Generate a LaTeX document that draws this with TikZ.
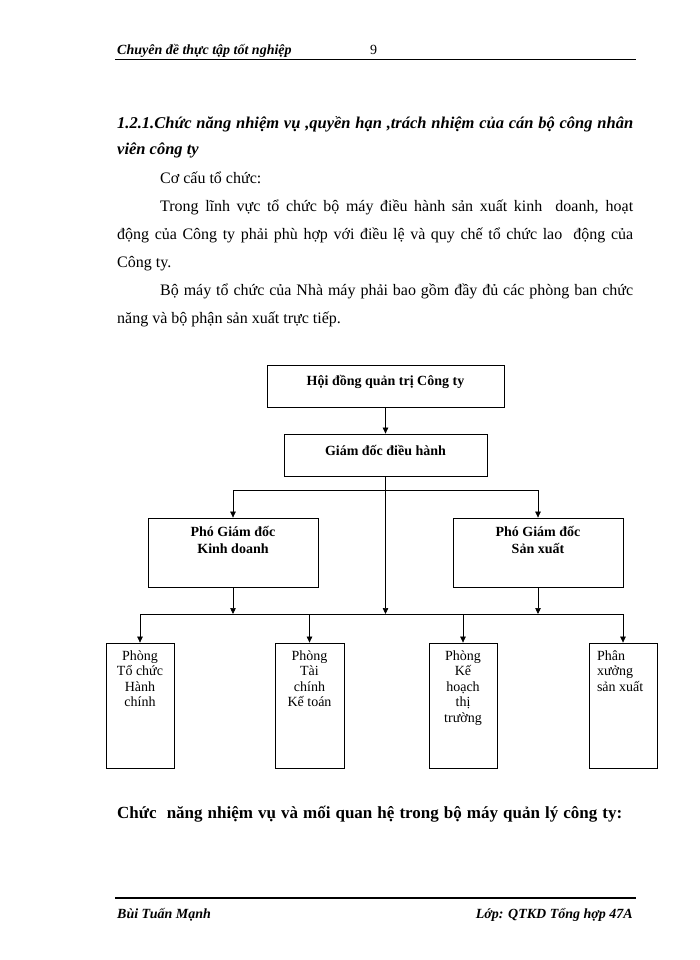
\documentclass[tikz,border=0pt]{standalone}
\usepackage{fontspec}
\setmainfont{Liberation Serif}
\usetikzlibrary{arrows.meta}
\begin{document}
\begin{tikzpicture}[x=1pt,y=-1pt,
  box/.style={draw, line width=0.8pt, inner sep=0pt, anchor=center},
  arr/.style={-{Triangle[length=6pt,width=5.5pt]}, line width=0.7pt},
  ln/.style={line width=0.7pt},
  txt/.style={inner sep=0pt, anchor=base west},
  txtr/.style={inner sep=0pt, anchor=base east}]
\fill[white] (0,0) rectangle (700,960);
\useasboundingbox (0,0) rectangle (700,960);

% header
\node[txt] (hd) at (117,55) {\fontsize{14}{16}\selectfont\bfseries\itshape Chuyên đề thực tập tốt nghiệp};
\node[txt] (pg) at (370,55) {\fontsize{14}{16}\selectfont 9};
\draw[line width=1.6pt] (115,59.5) coordinate (hl) -- (636,59.5) coordinate (hr);

% heading
\node[txt] (h1) at (117,129) {\fontsize{16.5}{20}\selectfont\bfseries\itshape\makebox[516pt][s]{1.2.1.Chức năng nhiệm vụ ,quyền hạn ,trách nhiệm của cán bộ công nhân}};
\node[txt] (h2) at (117,155) {\fontsize{16.5}{20}\selectfont\bfseries\itshape viên công ty};

% body
\node[txt] (p1) at (160,183) {\fontsize{16}{20}\selectfont Cơ cấu tổ chức:};
\node[txt] (p2) at (160,211) {\fontsize{16}{20}\selectfont\makebox[473pt][s]{Trong lĩnh vực tổ chức bộ máy điều hành sản xuất kinh\ \ doanh, hoạt}};
\node[txt] (p3) at (117,239) {\fontsize{16}{20}\selectfont\makebox[516pt][s]{động của Công ty phải phù hợp với điều lệ và quy chế tổ chức lao\ \ động của}};
\node[txt] (p4) at (117,267) {\fontsize{16}{20}\selectfont Công ty.};
\node[txt] (p5) at (160,295) {\fontsize{16}{20}\selectfont\makebox[473pt][s]{Bộ máy tổ chức của Nhà máy phải bao gồm đầy đủ các phòng ban chức}};
\node[txt] (p6) at (117,323) {\fontsize{16}{20}\selectfont năng và bộ phận sản xuất trực tiếp.};

% org chart boxes
\node[box] (b1) at (385.5,386) {\parbox[c][42pt][t]{237pt}{\centering\fontsize{14}{16}\selectfont\bfseries\rule{0pt}{20pt}Hội đồng quản trị Công ty}};
\node[box] (b2) at (385.5,455) {\parbox[c][42pt][t]{203pt}{\centering\fontsize{14}{16}\selectfont\bfseries\rule{0pt}{21pt}Giám đốc điều hành}};
\node[box] (pk) at (233,552.5) {\parbox[c][69pt][t]{170pt}{\centering\fontsize{14}{17}\selectfont\bfseries\rule{0pt}{18pt}Phó Giám đốc\\Kinh doanh}};
\node[box] (ps) at (538,552.5) {\parbox[c][69pt][t]{170pt}{\centering\fontsize{14}{17}\selectfont\bfseries\rule{0pt}{18pt}Phó Giám đốc\\Sản xuất}};

\node[box] (l1) at (140,705.5) {\parbox[c][125pt][t]{68pt}{\centering\fontsize{14}{15.5}\selectfont\rule{0pt}{17pt}Phòng\\Tổ chức\\Hành\\chính}};
\node[box] (l2) at (309.5,705.5) {\parbox[c][125pt][t]{69pt}{\centering\fontsize{14}{15.5}\selectfont\rule{0pt}{17pt}Phòng\\Tài\\chính\\Kế toán}};
\node[box] (l3) at (463,705.5) {\parbox[c][125pt][t]{68pt}{\centering\fontsize{14}{15.5}\selectfont\rule{0pt}{17pt}Phòng\\Kế\\hoạch\\thị\\trường}};
\node[box] (l4) at (623,705.5) {\parbox[c][125pt][t]{68pt}{\raggedright\leftskip=8pt\fontsize{14}{15.5}\selectfont\rule{0pt}{17pt}Phân\\xưởng\\sản xuất}};

% connectors
\coordinate (fork) at (385.5,490);
\coordinate (busc) at (385.5,614);
\coordinate (busL) at (140,614);
\coordinate (busR) at (623,614);
\draw[arr] (b1.south) -- (b2.north);
\draw[arr] (b2.south) -- (busc);
\draw[arr] (fork) -| (pk.north);
\draw[arr] (fork) -| (ps.north);
\draw[arr] (pk.south) -- (pk.south |- busc);
\draw[arr] (ps.south) -- (ps.south |- busc);
\draw[ln] (busL) -- (busR);
\draw[arr] (busL) -- (l1.north);
\draw[arr] (l2.north |- busc) -- (l2.north);
\draw[arr] (l3.north |- busc) -- (l3.north);
\draw[arr] (busR) -- (l4.north);

% closing heading
\node[txt] (cl) at (117,818) {\fontsize{17}{20}\selectfont\bfseries\makebox[505pt][s]{Chức\ \ năng nhiệm vụ và mối quan hệ trong bộ máy quản lý công ty:}};

% footer
\draw[line width=1.4pt] (115,898) coordinate (fl) -- (636,898) coordinate (fr);
\node[txt] (fa) at (117,918) {\fontsize{14}{16}\selectfont\bfseries\itshape Bùi Tuấn Mạnh};
\node[txtr] (fb) at (633,918) {\fontsize{14}{16}\selectfont\bfseries\itshape Lớp: QTKD Tổng hợp 47A};
\end{tikzpicture}
\end{document}
